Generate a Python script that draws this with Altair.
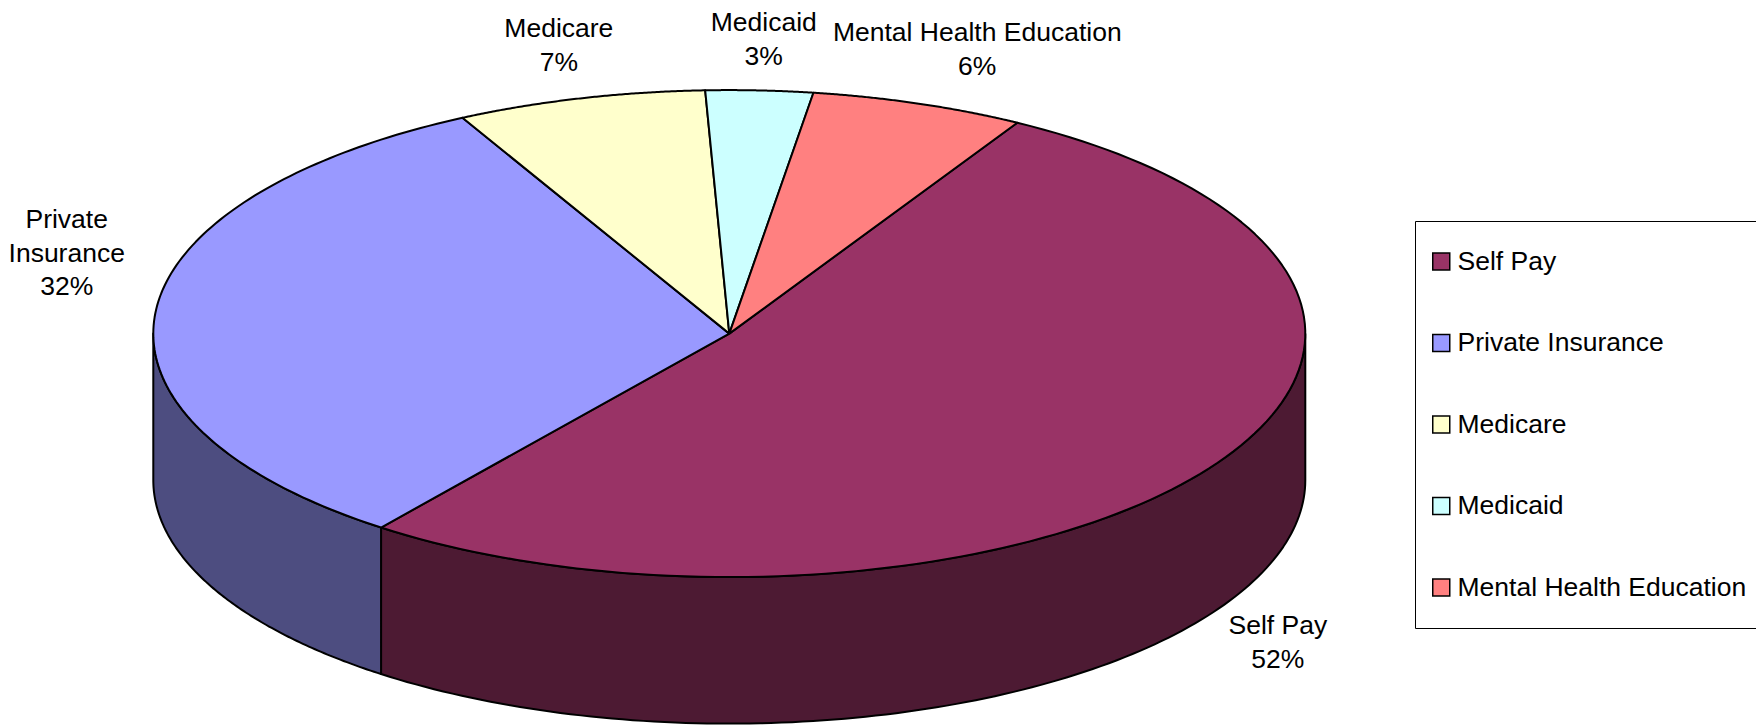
import math
import altair as alt
import pandas as pd

# ---------------- data ----------------
names = ["Self Pay", "Private Insurance", "Medicare", "Medicaid", "Mental Health Education"]
values = [52, 32, 7, 3, 6]
label_lines = [["Self Pay"], ["Private", "Insurance"], ["Medicare"], ["Medicaid"], ["Mental Health Education"]]
top_colors = ["#993366", "#9999FF", "#FFFFCC", "#CCFFFF", "#FF8080"]
side_colors = ["#4D1A33", "#4D4D80", "#80806A", "#6A8080", "#804040"]

df = pd.DataFrame({
    "name": names,
    "value": values,
    "order": list(range(len(names))),
    "lines": ["|".join(l) for l in label_lines],
    "nchar": [max(len(s) for s in l) for l in label_lines],
})

# ---------------- layout ----------------
W, H = 1748, 717            # view size (page margin 8px)
RX = 576.0                  # px per unit (horizontal radius)
CX, CY = 729.3, 333.6       # pie centre in page px
TILT = 243.5 / RX           # vertical squash of the top face
DEPTH = 146.5 / RX          # thickness of the pie
START = math.pi / 3         # first slice starts at 60 deg, runs clockwise
N = 120                     # points per arc
KX, KY = 1.055, 1.07        # label anchor radius
LIFT = 0.37                 # side labels raised by part of the depth
FONT = "Liberation Sans, Arial, sans-serif"
FS = 26.5
LH = 33.5

XMIN = -(CX - 8) / RX
XMAX = XMIN + W / RX
YMAX = (CY - 8) / RX
YMIN = YMAX - H / RX
xs = alt.Scale(domain=[XMIN, XMAX], nice=False, zero=False)
ys = alt.Scale(domain=[YMIN, YMAX], nice=False, zero=False)

base = alt.Chart(df).transform_joinaggregate(
    total="sum(value)"
).transform_window(
    cum="sum(value)", sort=[alt.SortField("order")], frame=[None, 0]
).transform_calculate(
    a0=f"{START} - 2*PI*(datum.cum - datum.value)/datum.total",
    a1=f"{START} - 2*PI*datum.cum/datum.total",
)

# side walls (front half only)
side = base.transform_calculate(
    lo="max(datum.a1, -PI)", hi="min(datum.a0, 0)"
).transform_filter("datum.lo < datum.hi").transform_calculate(
    k=f"sequence(0, {2*N+3})"
).transform_flatten(["k"]).transform_calculate(
    bot=f"datum.k > {N} && datum.k <= {2*N+1}",
    ang=(f"datum.k <= {N} ? datum.hi + (datum.lo - datum.hi)*datum.k/{N} : "
         f"(datum.k <= {2*N+1} ? datum.lo + (datum.hi - datum.lo)*(datum.k - {N+1})/{N} : datum.hi)"),
).transform_calculate(
    px="cos(datum.ang)",
    py=f"{TILT}*sin(datum.ang) - (datum.bot ? {DEPTH} : 0)",
).mark_line(stroke="black", strokeWidth=2, strokeJoin="round").encode(
    x=alt.X("px:Q", scale=xs, axis=None),
    y=alt.Y("py:Q", scale=ys, axis=None),
    fill=alt.Fill("name:N", scale=alt.Scale(domain=names, range=side_colors), legend=None),
    order=alt.Order("k:Q"),
)

# top faces
top = base.transform_calculate(
    k=f"sequence(0, {N+3})"
).transform_flatten(["k"]).transform_calculate(
    cen=f"datum.k == 0 || datum.k == {N+2}",
    ang=f"datum.a0 + (datum.a1 - datum.a0)*clamp(datum.k - 1, 0, {N})/{N}",
).transform_calculate(
    px="datum.cen ? 0 : cos(datum.ang)",
    py=f"datum.cen ? 0 : {TILT}*sin(datum.ang)",
).mark_line(stroke="black", strokeWidth=2, strokeJoin="round").encode(
    x=alt.X("px:Q", scale=xs, axis=None),
    y=alt.Y("py:Q", scale=ys, axis=None),
    fill=alt.Fill(
        "name:N",
        scale=alt.Scale(domain=names, range=top_colors),
        legend=alt.Legend(
            title=None, orient="none", legendX=1407, legendY=213, direction="vertical",
            symbolType="square", symbolSize=289, symbolStrokeColor="black", symbolStrokeWidth=1.5,
            labelFont=FONT, labelFontSize=FS, labelColor="black", labelOffset=3, labelLimit=500,
            padding=13, rowPadding=26.5, clipHeight=55, strokeColor="black", fillColor="white",
        ),
    ),
    order=alt.Order("k:Q"),
)

# data labels (y is the first line of each label)
labels = base.transform_calculate(
    mid="(datum.a0 + datum.a1)/2",
    txt="split(datum.lines + '|' + format(datum.value/datum.total, '.0%'), '|')",
).transform_calculate(
    nl="length(datum.txt)",
    c="cos(datum.mid)",
    s="sin(datum.mid)",
).transform_calculate(
    lx=f"({KX} + datum.nchar*0.48*{FS}/2/{RX})*datum.c",
    ly=(f"({KY}*{TILT} + datum.nl*{LH}/2/{RX})*datum.s - (datum.s < 0 ? {DEPTH} : 0)"
        f" + (datum.s >= 0 ? {LIFT}*{DEPTH}*datum.c*datum.c : 0)"
        f" + (datum.nl - 1)*{LH}/2/{RX}"),
).mark_text(font=FONT, fontSize=FS, lineHeight=LH, align="center", baseline="middle", color="black").encode(
    x=alt.X("lx:Q", scale=xs, axis=None),
    y=alt.Y("ly:Q", scale=ys, axis=None),
    text=alt.Text("txt:N"),
)

chart = alt.layer(side, top, labels).resolve_scale(fill="independent").properties(
    width=W, height=H, padding=0, autosize="none", background="white"
).configure_view(strokeWidth=0)

chart.save("out.html", embed_options={"renderer": "svg", "actions": False})
